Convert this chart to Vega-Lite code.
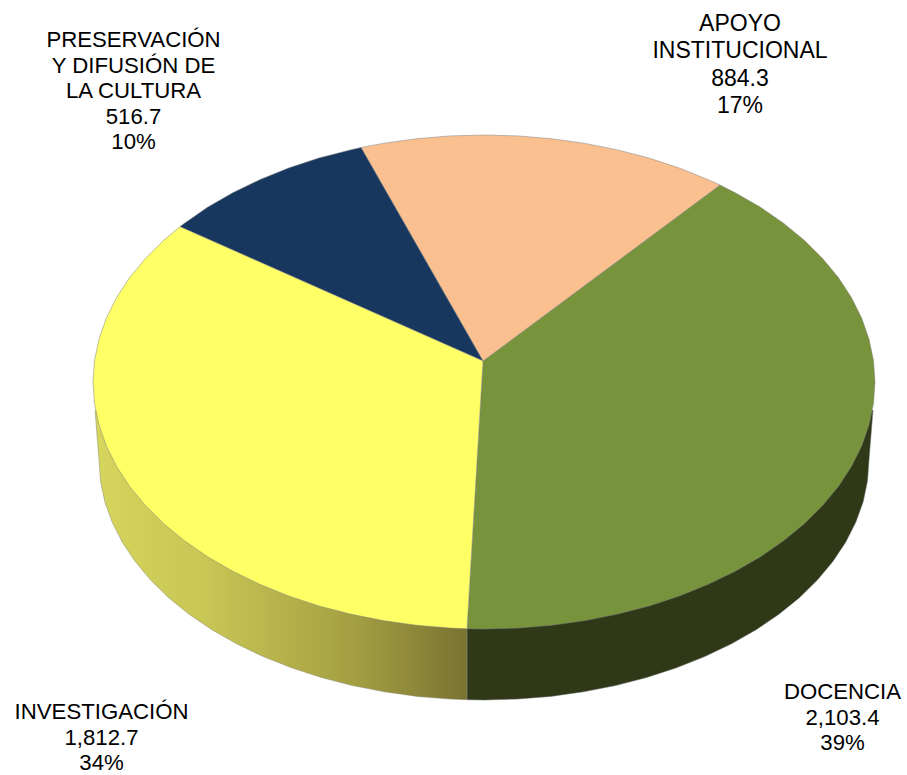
{
"$schema":"https://vega.github.io/schema/vega-lite/v6.json",
"width":907,"height":775,"padding":0,
"autosize":{"type":"none"},
"background":"white",
"view":{"stroke":null},
"datasets":{
"walls":[
{"part":"DOCENCIA","x":873,"y":410},{"part":"DOCENCIA","x":869,"y":460},{"part":"DOCENCIA","x":867.5,"y":480.9},{"part":"DOCENCIA","x":863.2,"y":501.7},{"part":"DOCENCIA","x":855.9,"y":522.1},{"part":"DOCENCIA","x":845.8,"y":542.1},{"part":"DOCENCIA","x":832.9,"y":561.4},{"part":"DOCENCIA","x":817.4,"y":580},{"part":"DOCENCIA","x":799.4,"y":597.7},{"part":"DOCENCIA","x":778.9,"y":614.3},{"part":"DOCENCIA","x":756.2,"y":629.7},{"part":"DOCENCIA","x":731.5,"y":643.8},{"part":"DOCENCIA","x":704.8,"y":656.6},{"part":"DOCENCIA","x":676.5,"y":667.8},{"part":"DOCENCIA","x":646.7,"y":677.5},{"part":"DOCENCIA","x":615.7,"y":685.5},{"part":"DOCENCIA","x":583.6,"y":691.8},{"part":"DOCENCIA","x":550.8,"y":696.4},{"part":"DOCENCIA","x":517.6,"y":699.1},{"part":"DOCENCIA","x":484,"y":700},{"part":"DOCENCIA","x":467,"y":699.7},{"part":"DOCENCIA","x":467,"y":628.8},
{"part":"INVESTIGACIÓN","x":95,"y":410},{"part":"INVESTIGACIÓN","x":99,"y":460},{"part":"INVESTIGACIÓN","x":100.5,"y":480.9},{"part":"INVESTIGACIÓN","x":104.8,"y":501.7},{"part":"INVESTIGACIÓN","x":112.1,"y":522.1},{"part":"INVESTIGACIÓN","x":122.2,"y":542.1},{"part":"INVESTIGACIÓN","x":135.1,"y":561.4},{"part":"INVESTIGACIÓN","x":150.6,"y":580},{"part":"INVESTIGACIÓN","x":168.6,"y":597.7},{"part":"INVESTIGACIÓN","x":189.1,"y":614.3},{"part":"INVESTIGACIÓN","x":211.8,"y":629.7},{"part":"INVESTIGACIÓN","x":236.5,"y":643.8},{"part":"INVESTIGACIÓN","x":263.2,"y":656.6},{"part":"INVESTIGACIÓN","x":291.5,"y":667.8},{"part":"INVESTIGACIÓN","x":321.3,"y":677.5},{"part":"INVESTIGACIÓN","x":352.3,"y":685.5},{"part":"INVESTIGACIÓN","x":384.4,"y":691.8},{"part":"INVESTIGACIÓN","x":417.2,"y":696.4},{"part":"INVESTIGACIÓN","x":450.4,"y":699.1},{"part":"INVESTIGACIÓN","x":467,"y":699.7},{"part":"INVESTIGACIÓN","x":467,"y":628.8}
],
"tops":[
{"part":"DOCENCIA","x":483,"y":361},{"part":"DOCENCIA","x":720,"y":185},{"part":"DOCENCIA","x":735.3,"y":192.8},{"part":"DOCENCIA","x":760.5,"y":207.3},{"part":"DOCENCIA","x":783.5,"y":223.2},{"part":"DOCENCIA","x":804.3,"y":240.3},{"part":"DOCENCIA","x":822.6,"y":258.5},{"part":"DOCENCIA","x":838.4,"y":277.6},{"part":"DOCENCIA","x":851.4,"y":297.5},{"part":"DOCENCIA","x":861.7,"y":318.1},{"part":"DOCENCIA","x":869,"y":339.1},{"part":"DOCENCIA","x":873.5,"y":360.5},{"part":"DOCENCIA","x":875,"y":382},{"part":"DOCENCIA","x":873.5,"y":403.5},{"part":"DOCENCIA","x":869,"y":424.9},{"part":"DOCENCIA","x":861.7,"y":445.9},{"part":"DOCENCIA","x":851.4,"y":466.5},{"part":"DOCENCIA","x":838.4,"y":486.4},{"part":"DOCENCIA","x":822.6,"y":505.5},{"part":"DOCENCIA","x":804.3,"y":523.7},{"part":"DOCENCIA","x":783.5,"y":540.8},{"part":"DOCENCIA","x":760.5,"y":556.7},{"part":"DOCENCIA","x":735.3,"y":571.2},{"part":"DOCENCIA","x":708.3,"y":584.3},{"part":"DOCENCIA","x":679.5,"y":595.9},{"part":"DOCENCIA","x":649.2,"y":605.9},{"part":"DOCENCIA","x":617.7,"y":614.1},{"part":"DOCENCIA","x":585.2,"y":620.6},{"part":"DOCENCIA","x":551.9,"y":625.2},{"part":"DOCENCIA","x":518.1,"y":628.1},{"part":"DOCENCIA","x":484,"y":629},{"part":"DOCENCIA","x":467,"y":628.8},{"part":"DOCENCIA","x":483,"y":361},
{"part":"APOYO INSTITUCIONAL","x":483,"y":361},{"part":"APOYO INSTITUCIONAL","x":361,"y":147.5},{"part":"APOYO INSTITUCIONAL","x":382.8,"y":143.4},{"part":"APOYO INSTITUCIONAL","x":416.1,"y":138.8},{"part":"APOYO INSTITUCIONAL","x":449.9,"y":135.9},{"part":"APOYO INSTITUCIONAL","x":484,"y":135},{"part":"APOYO INSTITUCIONAL","x":518.1,"y":135.9},{"part":"APOYO INSTITUCIONAL","x":551.9,"y":138.8},{"part":"APOYO INSTITUCIONAL","x":585.2,"y":143.4},{"part":"APOYO INSTITUCIONAL","x":617.7,"y":149.9},{"part":"APOYO INSTITUCIONAL","x":649.2,"y":158.1},{"part":"APOYO INSTITUCIONAL","x":679.5,"y":168.1},{"part":"APOYO INSTITUCIONAL","x":708.3,"y":179.7},{"part":"APOYO INSTITUCIONAL","x":720,"y":185},{"part":"APOYO INSTITUCIONAL","x":483,"y":361},
{"part":"PRESERVACIÓN Y DIFUSIÓN DE LA CULTURA","x":483,"y":361},{"part":"PRESERVACIÓN Y DIFUSIÓN DE LA CULTURA","x":180,"y":226.7},{"part":"PRESERVACIÓN Y DIFUSIÓN DE LA CULTURA","x":184.5,"y":223.2},{"part":"PRESERVACIÓN Y DIFUSIÓN DE LA CULTURA","x":207.5,"y":207.3},{"part":"PRESERVACIÓN Y DIFUSIÓN DE LA CULTURA","x":232.7,"y":192.8},{"part":"PRESERVACIÓN Y DIFUSIÓN DE LA CULTURA","x":259.7,"y":179.7},{"part":"PRESERVACIÓN Y DIFUSIÓN DE LA CULTURA","x":288.5,"y":168.1},{"part":"PRESERVACIÓN Y DIFUSIÓN DE LA CULTURA","x":318.8,"y":158.1},{"part":"PRESERVACIÓN Y DIFUSIÓN DE LA CULTURA","x":350.3,"y":149.9},{"part":"PRESERVACIÓN Y DIFUSIÓN DE LA CULTURA","x":361,"y":147.5},{"part":"PRESERVACIÓN Y DIFUSIÓN DE LA CULTURA","x":483,"y":361},
{"part":"INVESTIGACIÓN","x":483,"y":361},{"part":"INVESTIGACIÓN","x":180,"y":226.7},{"part":"INVESTIGACIÓN","x":163.7,"y":240.3},{"part":"INVESTIGACIÓN","x":145.4,"y":258.5},{"part":"INVESTIGACIÓN","x":129.6,"y":277.6},{"part":"INVESTIGACIÓN","x":116.6,"y":297.5},{"part":"INVESTIGACIÓN","x":106.3,"y":318.1},{"part":"INVESTIGACIÓN","x":99,"y":339.1},{"part":"INVESTIGACIÓN","x":94.5,"y":360.5},{"part":"INVESTIGACIÓN","x":93,"y":382},{"part":"INVESTIGACIÓN","x":94.5,"y":403.5},{"part":"INVESTIGACIÓN","x":99,"y":424.9},{"part":"INVESTIGACIÓN","x":106.3,"y":445.9},{"part":"INVESTIGACIÓN","x":116.6,"y":466.5},{"part":"INVESTIGACIÓN","x":129.6,"y":486.4},{"part":"INVESTIGACIÓN","x":145.4,"y":505.5},{"part":"INVESTIGACIÓN","x":163.7,"y":523.7},{"part":"INVESTIGACIÓN","x":184.5,"y":540.8},{"part":"INVESTIGACIÓN","x":207.5,"y":556.7},{"part":"INVESTIGACIÓN","x":232.7,"y":571.2},{"part":"INVESTIGACIÓN","x":259.7,"y":584.3},{"part":"INVESTIGACIÓN","x":288.5,"y":595.9},{"part":"INVESTIGACIÓN","x":318.8,"y":605.9},{"part":"INVESTIGACIÓN","x":350.3,"y":614.1},{"part":"INVESTIGACIÓN","x":382.8,"y":620.6},{"part":"INVESTIGACIÓN","x":416.1,"y":625.2},{"part":"INVESTIGACIÓN","x":449.9,"y":628.1},{"part":"INVESTIGACIÓN","x":467,"y":628.8},{"part":"INVESTIGACIÓN","x":483,"y":361}
],
"labels":[
{"part":"DOCENCIA","value":2103.4,"share":0.39,"label":"DOCENCIA\n2,103.4\n39%","x":842.5,"y":681},
{"part":"INVESTIGACIÓN","value":1812.7,"share":0.34,"label":"INVESTIGACIÓN\n1,812.7\n34%","x":101.5,"y":701},
{"part":"PRESERVACIÓN Y DIFUSIÓN DE LA CULTURA","value":516.7,"share":0.10,"label":"PRESERVACIÓN\nY DIFUSIÓN DE\nLA CULTURA\n516.7\n10%","x":133.5,"y":29}
],
"labelsTall":[
{"part":"APOYO INSTITUCIONAL","value":884.3,"share":0.17,"label":"APOYO\nINSTITUCIONAL\n884.3\n17%","x":740,"y":13}
]
},
"encoding":{
"x":{"field":"x","type":"quantitative","axis":null,"scale":{"domain":[0,907],"nice":false,"zero":false}},
"y":{"field":"y","type":"quantitative","axis":null,"scale":{"domain":[0,775],"reverse":true,"nice":false,"zero":false}}
},
"layer":[
{"data":{"name":"walls"},"transform":[{"filter":"datum.part === 'DOCENCIA'"}],
 "mark":{"type":"line","fill":"#2f3817","stroke":"#6b6b6b","strokeWidth":0.5,"clip":false},
 "encoding":{"order":{"value":null}}},
{"data":{"name":"walls"},"transform":[{"filter":"datum.part === 'INVESTIGACIÓN'"}],
 "mark":{"type":"line","stroke":"#8a8a70","strokeWidth":0.5,"fill":{"gradient":"linear","x1":0,"y1":0,"x2":1,"y2":0,"stops":[{"offset":0,"color":"#d6d55c"},{"offset":0.3,"color":"#c8c655"},{"offset":0.7,"color":"#a39f42"},{"offset":1,"color":"#7a7232"}]}},
 "encoding":{"order":{"value":null}}},
{"data":{"name":"tops"},
 "mark":{"type":"line","stroke":"#808080","strokeWidth":0.5},
 "encoding":{"order":{"value":null},
  "fill":{"field":"part","type":"nominal","legend":null,"scale":{"domain":["DOCENCIA","APOYO INSTITUCIONAL","PRESERVACIÓN Y DIFUSIÓN DE LA CULTURA","INVESTIGACIÓN"],"range":["#77933c","#fac090","#17375e","#ffff66"]}}}},
{"data":{"name":"labels"},
 "mark":{"type":"text","font":"Liberation Sans","fontSize":22.2,"lineHeight":25.5,"lineBreak":"\n","align":"center","baseline":"top","color":"#000000"},
 "encoding":{"text":{"field":"label","type":"nominal"}}},
{"data":{"name":"labelsTall"},
 "mark":{"type":"text","font":"Liberation Sans","fontSize":23,"lineHeight":27.4,"lineBreak":"\n","align":"center","baseline":"top","color":"#000000"},
 "encoding":{"text":{"field":"label","type":"nominal"}}}
]
}
